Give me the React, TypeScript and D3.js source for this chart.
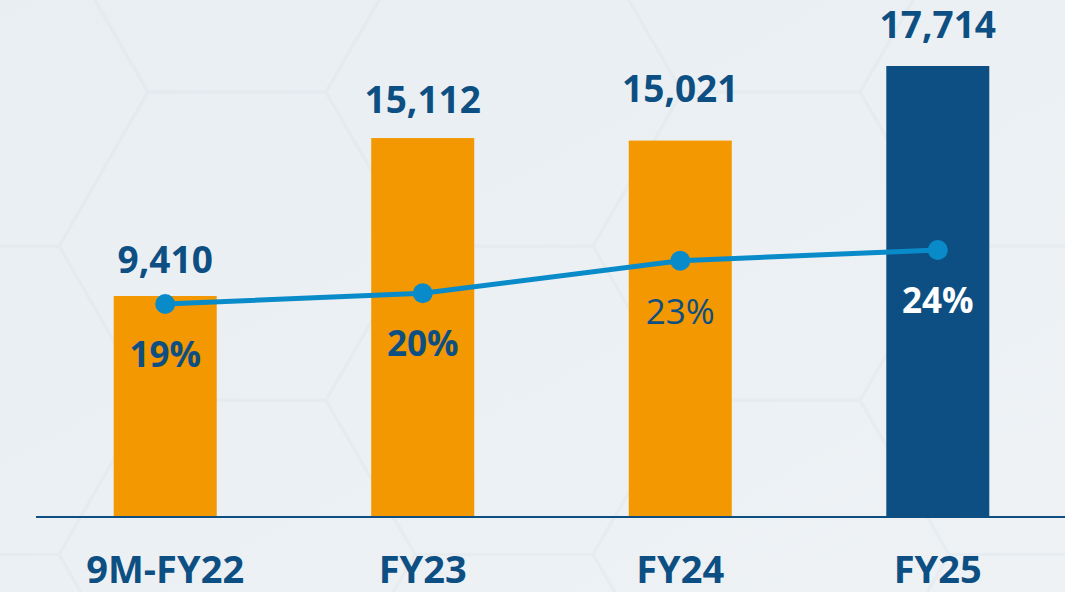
import React from "react";
import * as d3 from "d3";

const categories = ["9M-FY22", "FY23", "FY24", "FY25"];
const revenue = [9410, 15112, 15021, 17714];
const margin = [19, 20, 23, 24];
const marginLabels = ["19%", "20%", "23%", "24%"];

// styling / layout (not data)
const barColors = ["#f39800", "#f39800", "#f39800", "#0d4f82"];
const valueLabelGap = [23, 25, 39, 28];
const pctStyles = [
  { fill: "#0d4f82", weight: 700 },
  { fill: "#0d4f82", weight: 700 },
  { fill: "#0d4f82", weight: 400 },
  { fill: "#ffffff", weight: 700 },
];

const W = 1065;
const H = 592;
const baseY = 517;
const FONT = "'Open Sans', 'Noto Sans', sans-serif";

export default function App() {
  const x = d3
    .scaleBand<string>()
    .domain(categories)
    .range([38, 1065])
    .paddingInner(0.6)
    .paddingOuter(0.294);
  const y = d3.scaleLinear().domain([1430, 17714]).range([baseY, 66]);
  const yp = d3.scaleLinear().domain([19, 24]).range([304, 250]);

  const pts: [number, number][] = categories.map((c, i) => [
    (x(c) as number) + x.bandwidth() / 2,
    yp(margin[i]),
  ]);
  const line = d3.line()(pts) as string;

  // faint hexagon background
  const s = 178;
  const hexPaths: string[] = [];
  const hx = 1.5 * s;
  const hy = Math.sqrt(3) * s;
  for (let col = -2; col < 6; col++) {
    for (let row = -2; row < 4; row++) {
      const cx = -30 + col * hx;
      const cy = 92 + row * hy + (col % 2 !== 0 ? hy / 2 : 0);
      const verts = d3.range(6).map((k) => {
        const a = (Math.PI / 3) * k;
        return [cx + s * Math.cos(a), cy + s * Math.sin(a)] as [number, number];
      });
      hexPaths.push("M" + verts.map((v) => v.join(",")).join("L") + "Z");
    }
  }

  return (
    <svg
      width={W}
      height={H}
      style={{ position: "absolute", left: 0, top: 0, display: "block" }}
      fontFamily={FONT}
    >
      <defs>
        <linearGradient id="bg" x1="0" y1="0" x2="1" y2="1">
          <stop offset="0" stopColor="#e9eef2" />
          <stop offset="1" stopColor="#eef2f5" />
        </linearGradient>
      </defs>
      <rect width={W} height={H} fill="url(#bg)" />
      <g fill="none" stroke="#dbe3e8" strokeWidth={3} opacity={0.35}>
        {hexPaths.map((d, i) => (
          <path key={i} d={d} />
        ))}
      </g>
      {categories.map((c, i) => (
        <rect
          key={c}
          x={x(c)}
          y={y(revenue[i])}
          width={x.bandwidth()}
          height={baseY - y(revenue[i])}
          fill={barColors[i]}
        />
      ))}
      <line x1={36} x2={W} y1={baseY} y2={baseY} stroke="#0d4f82" strokeWidth={2} />
      {categories.map((c, i) => (
        <text
          key={"v" + c}
          x={(x(c) as number) + x.bandwidth() / 2}
          y={y(revenue[i]) - valueLabelGap[i]}
          textAnchor="middle"
          fontSize={37}
          fontWeight={700}
          fill="#0d4f82"
        >
          {d3.format(",")(revenue[i])}
        </text>
      ))}
      <path d={line} fill="none" stroke="#0a8bc9" strokeWidth={5} />
      {pts.map((p, i) => (
        <circle key={"c" + i} cx={p[0]} cy={p[1]} r={10} fill="#0a8bc9" />
      ))}
      {pts.map((p, i) => (
        <text
          key={"p" + i}
          x={p[0]}
          y={p[1] + 63}
          textAnchor="middle"
          fontSize={35}
          fontWeight={pctStyles[i].weight}
          fill={pctStyles[i].fill}
        >
          {marginLabels[i]}
        </text>
      ))}
      {categories.map((c) => (
        <text
          key={"x" + c}
          x={(x(c) as number) + x.bandwidth() / 2}
          y={583}
          textAnchor="middle"
          fontSize={38}
          fontWeight={700}
          fill="#0d4f82"
        >
          {c}
        </text>
      ))}
    </svg>
  );
}
